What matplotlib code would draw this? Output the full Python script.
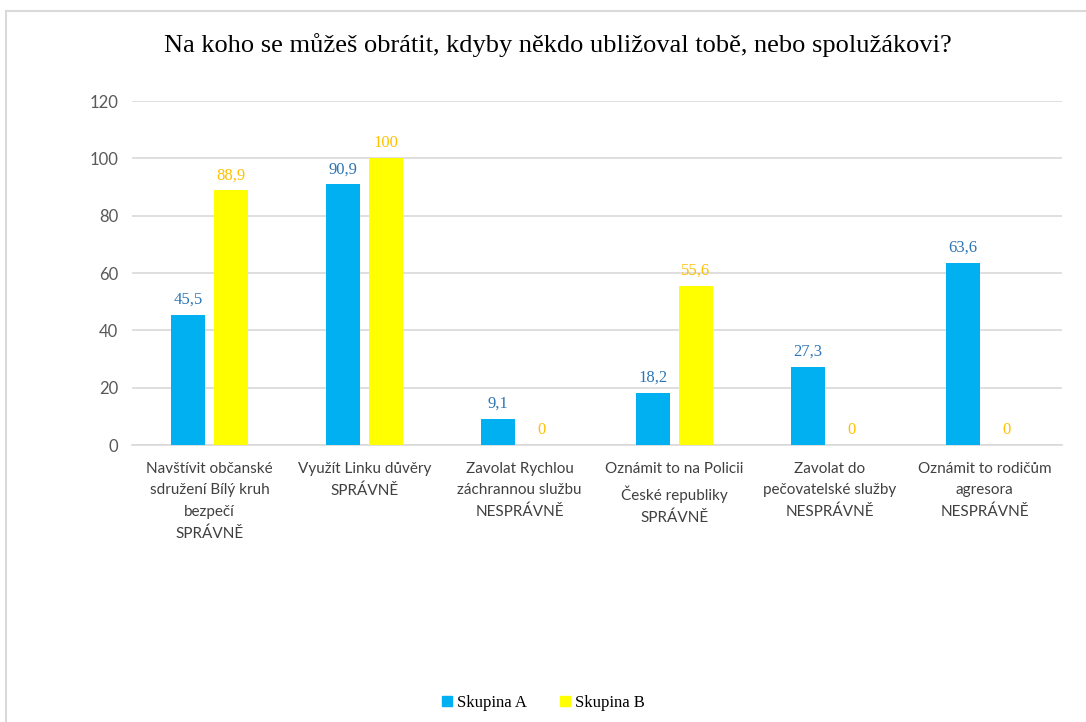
import numpy as np
import matplotlib.pyplot as plt
from matplotlib.lines import Line2D
from matplotlib.patches import Patch

categories = [
    "Navštívit občanské\nsdružení Bílý kruh\nbezpečí\nSPRÁVNĚ",
    "Využít Linku důvěry\nSPRÁVNĚ",
    "Zavolat Rychlou\nzáchrannou službu\nNESPRÁVNĚ",
    "Oznámit to na Policii\nČeské republiky\nSPRÁVNĚ",
    "Zavolat do\npečovatelské služby\nNESPRÁVNĚ",
    "Oznámit to rodičům\nagresora\nNESPRÁVNĚ",
]
skupina_a = [45.5, 90.9, 9.1, 18.2, 27.3, 63.6]
skupina_b = [88.9, 100, 0, 55.6, 0, 0]
series_names = ["Skupina A", "Skupina B"]

blue = "#00B0F0"
yellow = "#FFFF00"
blue_lbl = "#2E75B6"
yellow_lbl = "#FFC000"

serif = "Liberation Serif"
sans = "Lato"

fig = plt.figure(figsize=(10.86, 7.22), dpi=100)
ax = fig.add_axes([132 / 1086, 1 - 445 / 722, 930 / 1086, 344 / 722])

x = np.arange(len(categories))
w = 0.22
off = 0.139
bars_a = ax.bar(x - off, skupina_a, w, color=blue, zorder=3)
bars_b = ax.bar(x + off, skupina_b, w, color=yellow, zorder=3)

def fmt(v):
    s = f"{v:g}"
    return s.replace(".", ",")

for bars, vals, col in [(bars_a, skupina_a, blue_lbl), (bars_b, skupina_b, yellow_lbl)]:
    for b, v in zip(bars, vals):
        ax.annotate(fmt(v), (b.get_x() + b.get_width() / 2, v),
                    xytext=(0, 5), textcoords="offset points",
                    ha="center", va="bottom", color=col,
                    fontsize=12, family=serif)

ax.set_xlim(-0.5, len(categories) - 0.5)
ax.set_ylim(0, 120)
ax.set_yticks(range(0, 121, 20))
ax.set_xticks(x)
ax.set_xticklabels(categories, family=sans, fontsize=11, color="#404040",
                   linespacing=1.68)
ax.tick_params(axis="y", labelsize=12, labelcolor="#595959", length=0, pad=10)
for t in ax.get_yticklabels():
    t.set_family(sans)
ax.tick_params(axis="x", length=0, pad=12)
ax.grid(axis="y", color="#D9D9D9", linewidth=1.2, zorder=0)
for s in ["top", "right", "left"]:
    ax.spines[s].set_visible(False)
ax.spines["bottom"].set_color("#D9D9D9")
ax.spines["bottom"].set_linewidth(1.2)

fig.text(558 / 1086, 1 - 45 / 722, "Na koho se můžeš obrátit, kdyby někdo ubližoval tobě, nebo spolužákovi?",
         ha="center", va="center", fontsize=19, family=serif, color="#000000")

handles = [Patch(color=blue), Patch(color=yellow)]
fig.legend(handles, series_names, loc="center", bbox_to_anchor=(0.5, 1 - 703 / 722),
           ncol=2, frameon=False, prop={"family": serif, "size": 12},
           handlelength=0.6, handleheight=0.6, handletextpad=0.3, columnspacing=2.0)

# light frame along the top and left edges
fig.add_artist(Line2D([6 / 1086, 1], [1 - 11 / 722, 1 - 11 / 722], color="#D9D9D9", lw=1.5))
fig.add_artist(Line2D([6 / 1086, 6 / 1086], [0, 1 - 11 / 722], color="#D9D9D9", lw=1.5))

fig.savefig("out.png", dpi=100)
